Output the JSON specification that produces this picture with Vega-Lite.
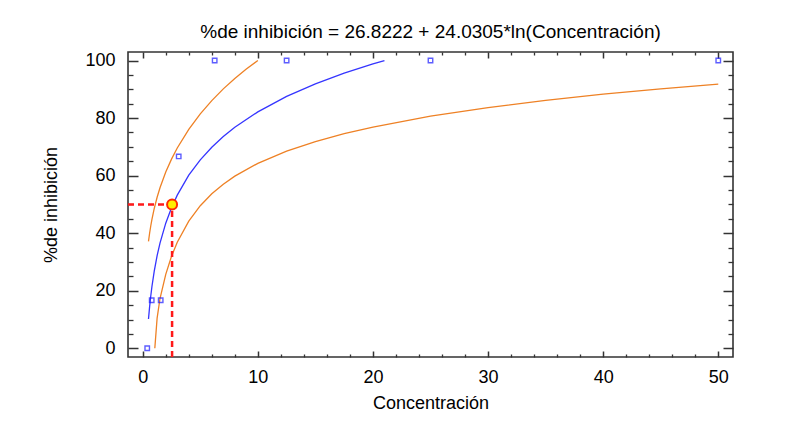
{
  "$schema": "https://vega.github.io/schema/vega-lite/v6.json",
  "autosize": "none",
  "width": 605,
  "height": 305,
  "padding": {"left": 128, "top": 52, "right": 65, "bottom": 75},
  "background": "white",
  "config": {
    "view": {"stroke": "#333333", "strokeWidth": 1.6},
    "font": "Liberation Sans",
    "axis": {"grid": false, "domain": false, "labelFont": "Liberation Sans", "titleFont": "Liberation Sans", "labelColor": "#000000", "titleColor": "#000000", "tickColor": "#333333", "labelFontSize": 18, "titleFontSize": 18, "titleFontWeight": "normal"}
  },
  "title": {"text": "%de inhibición = 26.8222 + 24.0305*ln(Concentración)", "fontSize": 19, "fontWeight": "normal", "font": "Liberation Sans", "color": "#000000", "anchor": "middle", "offset": 9},
  "datasets": {
    "fit": [
      {"c": 0.5, "p": 10.17}, {"c": 0.6, "p": 14.55}, {"c": 0.7, "p": 18.25}, {"c": 0.8, "p": 21.46},
      {"c": 1, "p": 26.82}, {"c": 1.25, "p": 32.18}, {"c": 1.5, "p": 36.57}, {"c": 2, "p": 43.48},
      {"c": 2.5, "p": 48.84}, {"c": 3, "p": 53.22}, {"c": 4, "p": 60.14}, {"c": 5, "p": 65.5},
      {"c": 6, "p": 69.88}, {"c": 7, "p": 73.58}, {"c": 8, "p": 76.79}, {"c": 10, "p": 82.16},
      {"c": 12.5, "p": 87.52}, {"c": 15, "p": 91.9}, {"c": 17.5, "p": 95.6}, {"c": 20, "p": 98.81},
      {"c": 21, "p": 100}
    ],
    "upper": [
      {"c": 0.5, "p": 37.13}, {"c": 0.6, "p": 40.07}, {"c": 0.7, "p": 42.58}, {"c": 0.8, "p": 44.8},
      {"c": 1, "p": 48.58}, {"c": 1.25, "p": 52.48}, {"c": 1.5, "p": 55.8}, {"c": 2, "p": 61.25},
      {"c": 2.5, "p": 65.73}, {"c": 3, "p": 69.59}, {"c": 4, "p": 76.08}, {"c": 5, "p": 81.46},
      {"c": 6, "p": 86.08}, {"c": 7, "p": 90.14}, {"c": 8, "p": 93.77}, {"c": 9, "p": 97.05},
      {"c": 10, "p": 100}
    ],
    "lower": [
      {"c": 1.05, "p": 0}, {"c": 1.25, "p": 10.5}, {"c": 1.5, "p": 17.3}, {"c": 2, "p": 25.7},
      {"c": 2.5, "p": 31.95}, {"c": 3, "p": 36.85}, {"c": 4, "p": 44.2}, {"c": 5, "p": 49.54},
      {"c": 6, "p": 53.68}, {"c": 7, "p": 57.02}, {"c": 8, "p": 59.81}, {"c": 10, "p": 64.27},
      {"c": 12.5, "p": 68.51}, {"c": 15, "p": 71.83}, {"c": 17.5, "p": 74.56}, {"c": 20, "p": 76.87},
      {"c": 25, "p": 80.64}, {"c": 30, "p": 83.65}, {"c": 35, "p": 86.15}, {"c": 40, "p": 88.29},
      {"c": 45, "p": 90.16}, {"c": 50, "p": 91.82}
    ],
    "obs": [
      {"c": 0.39, "p": 0}, {"c": 0.78, "p": 16.67}, {"c": 1.56, "p": 16.67}, {"c": 3.125, "p": 66.67},
      {"c": 6.25, "p": 100}, {"c": 12.5, "p": 100}, {"c": 25, "p": 100}, {"c": 50, "p": 100}
    ],
    "guide": [
      {"c": -1.28, "c2": 2.55, "p": 50, "p2": 50},
      {"c": 2.55, "c2": 2.55, "p": -3.03, "p2": 50}
    ],
    "ic50": [{"c": 2.55, "p": 50}]
  },
  "resolve": {"axis": {"x": "independent", "y": "independent"}},
  "layer": [
    {
      "data": {"name": "fit"},
      "mark": {"type": "line", "color": "#3535ff", "strokeWidth": 1.3},
      "encoding": {
        "x": {"field": "c", "type": "quantitative", "scale": {"domain": [-1.28, 51.28], "nice": false, "zero": false},
              "axis": {"orient": "bottom", "values": [0, 10, 20, 30, 40, 50], "ticks": false, "labelPadding": 11, "title": "Concentración", "titleY": 37}},
        "y": {"field": "p", "type": "quantitative", "scale": {"domain": [-3.03, 102.96], "nice": false, "zero": false},
              "axis": {"orient": "left", "values": [0, 20, 40, 60, 80, 100], "ticks": false, "labelPadding": 13, "title": "%de inhibición", "titleX": -72, "titleBaseline": "alphabetic"}}
      }
    },
    {
      "data": {"name": "upper"},
      "mark": {"type": "line", "color": "#ee8125", "strokeWidth": 1.3},
      "encoding": {
        "x": {"field": "c", "type": "quantitative", "axis": {"orient": "bottom", "values": [0, 10, 20, 30, 40, 50], "labels": false, "title": null, "tickSize": -6, "tickWidth": 1.5}},
        "y": {"field": "p", "type": "quantitative", "axis": {"orient": "left", "values": [0, 20, 40, 60, 80, 100], "labels": false, "title": null, "tickSize": -10, "tickWidth": 1.5}}
      }
    },
    {
      "data": {"name": "lower"},
      "mark": {"type": "line", "color": "#ee8125", "strokeWidth": 1.3},
      "encoding": {
        "x": {"field": "c", "type": "quantitative", "axis": {"orient": "bottom", "values": [2, 4, 6, 8, 12, 14, 16, 18, 22, 24, 26, 28, 32, 34, 36, 38, 42, 44, 46, 48], "labels": false, "title": null, "tickSize": -3, "tickWidth": 1.3}},
        "y": {"field": "p", "type": "quantitative", "axis": {"orient": "left", "values": [5, 10, 15, 25, 30, 35, 45, 50, 55, 65, 70, 75, 85, 90, 95], "labels": false, "title": null, "tickSize": -5, "tickWidth": 1.3}}
      }
    },
    {
      "data": {"name": "guide"},
      "mark": {"type": "rule", "color": "#ff1a1a", "strokeWidth": 2.5, "strokeDash": [6, 4]},
      "encoding": {
        "x": {"field": "c", "type": "quantitative", "axis": {"orient": "top", "values": [0, 10, 20, 30, 40, 50], "labels": false, "title": null, "tickSize": -6, "tickWidth": 1.5}},
        "x2": {"field": "c2"},
        "y": {"field": "p", "type": "quantitative", "axis": {"orient": "right", "values": [0, 20, 40, 60, 80, 100], "labels": false, "title": null, "tickSize": -10, "tickWidth": 1.5}},
        "y2": {"field": "p2"}
      }
    },
    {
      "data": {"name": "obs"},
      "mark": {"type": "point", "shape": "square", "filled": false, "color": "#1a1aff", "size": 20, "strokeWidth": 1.4},
      "encoding": {
        "x": {"field": "c", "type": "quantitative", "axis": {"orient": "top", "values": [2, 4, 6, 8, 12, 14, 16, 18, 22, 24, 26, 28, 32, 34, 36, 38, 42, 44, 46, 48], "labels": false, "title": null, "tickSize": -3, "tickWidth": 1.3}},
        "y": {"field": "p", "type": "quantitative", "axis": {"orient": "right", "values": [5, 10, 15, 25, 30, 35, 45, 50, 55, 65, 70, 75, 85, 90, 95], "labels": false, "title": null, "tickSize": -5, "tickWidth": 1.3}}
      }
    },
    {
      "data": {"name": "ic50"},
      "mark": {"type": "point", "shape": "circle", "filled": true, "fill": "#ffee00", "stroke": "#ff2a00", "strokeWidth": 2, "size": 100, "opacity": 1},
      "encoding": {
        "x": {"field": "c", "type": "quantitative", "axis": null},
        "y": {"field": "p", "type": "quantitative", "axis": null}
      }
    }
  ]
}
